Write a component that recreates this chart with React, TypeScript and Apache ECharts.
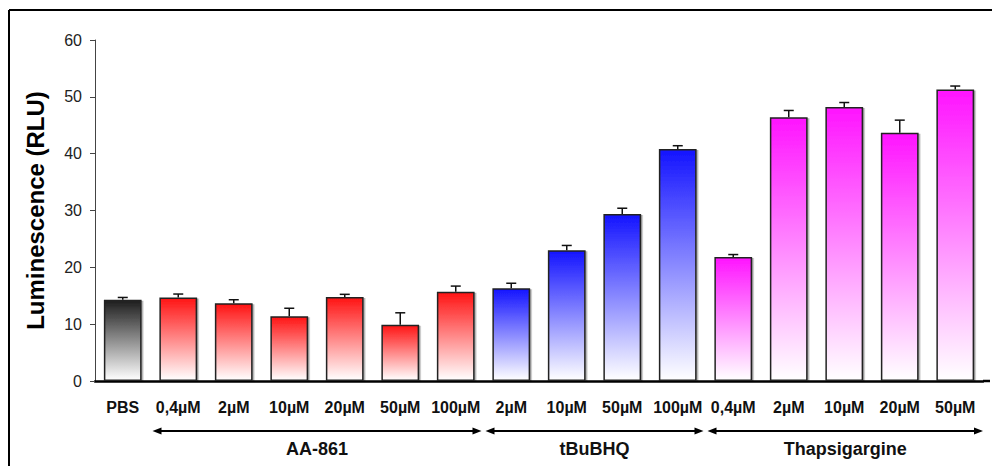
import React, { useEffect, useRef } from "react";
import * as echarts from "echarts";

const categories = ["PBS", "0,4µM", "2µM", "10µM", "20µM", "50µM", "100µM", "2µM", "10µM", "50µM", "100µM", "0,4µM", "2µM", "10µM", "20µM", "50µM"];
const values = [14.3, 14.7, 13.7, 11.4, 14.8, 9.9, 15.7, 16.3, 23.0, 29.4, 40.8, 21.8, 46.4, 48.2, 43.7, 51.3];
const errors = [0.4, 0.6, 0.6, 1.4, 0.45, 2.1, 1.0, 0.9, 0.85, 1.0, 0.6, 0.45, 1.2, 0.8, 2.2, 0.6];
const groupIndex = [0, 1, 1, 1, 1, 1, 1, 2, 2, 2, 2, 3, 3, 3, 3, 3];
const groupTopColors = ["#1e1e1e", "#ff1414", "#1414ff", "#ff14ff"];
const groupNames = ["AA-861", "tBuBHQ", "Thapsigargine"];
const groupRanges = [[1, 6], [7, 10], [11, 15]];
const yTicks = [0, 10, 20, 30, 40, 50, 60];

const FONT = "'Liberation Sans', Arial, sans-serif";

export default function App() {
  const ref = useRef<HTMLDivElement>(null);
  useEffect(() => {
    if (!ref.current) return;
    const chart = echarts.init(ref.current, null, { renderer: "svg" });
    const gridLeft = 95;
    const gridRight = 9;
    const gridTop = 40;
    const gridBottom = 85;
    const option: any = {
      animation: false,
      backgroundColor: "#ffffff",
      grid: { left: gridLeft, right: gridRight, top: gridTop, bottom: gridBottom },
      xAxis: {
        type: "category",
        data: categories,
        axisLine: { show: true, lineStyle: { color: "#000", width: 2.5 } },
        axisTick: { show: false },
        axisLabel: { fontFamily: FONT, fontWeight: "bold", fontSize: 16, color: "#111", margin: 18, interval: 0 },
      },
      yAxis: {
        type: "value",
        min: yTicks[0],
        max: yTicks[yTicks.length - 1],
        interval: 10,
        name: "Luminescence (RLU)",
        nameLocation: "middle",
        nameGap: 48,
        nameTextStyle: { fontFamily: FONT, fontWeight: "bold", fontSize: 24, color: "#000" },
        axisLine: { show: true, lineStyle: { color: "#444", width: 1 } },
        axisTick: { show: true, length: 5, lineStyle: { color: "#444" } },
        axisLabel: { fontFamily: FONT, fontSize: 16, color: "#222", margin: 13 },
        splitLine: { show: false },
      },
      series: [
        {
          type: "bar",
          barWidth: "68%",
          data: values.map((v, i) => ({
            value: v,
            itemStyle: {
              color: new echarts.graphic.LinearGradient(0, 0, 0, 1, [
                { offset: 0, color: groupTopColors[groupIndex[i]] },
                { offset: 1, color: "#ffffff" },
              ]),
              borderColor: "#222",
              borderWidth: 1.5,
              shadowColor: "rgba(0,0,0,0.35)",
              shadowOffsetX: 1.5,
              shadowOffsetY: 1,
              shadowBlur: 0,
            },
          })),
          z: 2,
        },
        {
          type: "custom",
          z: 3,
          data: values.map((v, i) => [i, v, v + errors[i]]),
          renderItem: (params: any, api: any) => {
            const x = api.value(0);
            const p0 = api.coord([x, api.value(1)]);
            const p1 = api.coord([x, api.value(2)]);
            const style = { stroke: "#111", lineWidth: 1.5 };
            return {
              type: "group",
              children: [
                { type: "line", shape: { x1: p0[0], y1: p0[1], x2: p1[0], y2: p1[1] }, style },
                { type: "line", shape: { x1: p1[0] - 5, y1: p1[1], x2: p1[0] + 5, y2: p1[1] }, style },
              ],
            };
          },
        },
      ],
    };
    chart.setOption(option);

    const c0 = chart.convertToPixel({ xAxisIndex: 0 }, 0) as number;
    const c1 = chart.convertToPixel({ xAxisIndex: 0 }, 1) as number;
    const band = c1 - c0;
    const baseY = chart.convertToPixel({ yAxisIndex: 0 }, 0) as number;
    const arrowY = baseY + 50;
    const labelY = baseY + 68;
    const graphics: any[] = [];
    const lineStyle = { stroke: "#000", lineWidth: 2 };
    groupRanges.forEach((r, gi) => {
      const left = c0 + (r[0] - 0.5) * band + 2;
      const right = c0 + (r[1] + 0.5) * band - (gi === groupRanges.length - 1 ? 0 : 2);
      graphics.push({ type: "line", shape: { x1: left + 4, y1: arrowY, x2: right - 4, y2: arrowY }, style: lineStyle, silent: true });
      graphics.push({ type: "polygon", shape: { points: [[left, arrowY], [left + 9, arrowY - 3.5], [left + 9, arrowY + 3.5]] }, style: { fill: "#000" }, silent: true });
      graphics.push({ type: "polygon", shape: { points: [[right, arrowY], [right - 9, arrowY - 3.5], [right - 9, arrowY + 3.5]] }, style: { fill: "#000" }, silent: true });
      graphics.push({
        type: "text",
        x: (left + right) / 2,
        y: labelY,
        style: { text: groupNames[gi], font: `bold 18px ${FONT}`, fill: "#111", align: "center", verticalAlign: "middle" },
        silent: true,
      });
    });
    const w = chart.getWidth();
    const h = chart.getHeight();
    graphics.push({ type: "line", shape: { x1: w - gridRight, y1: baseY, x2: w - 2, y2: baseY }, style: { stroke: "#000", lineWidth: 2.5 }, silent: true });
    graphics.push({ type: "line", shape: { x1: 9, y1: 10, x2: w, y2: 10 }, style: { stroke: "#000", lineWidth: 2 }, silent: true });
    graphics.push({ type: "line", shape: { x1: 9, y1: 10, x2: 9, y2: h }, style: { stroke: "#000", lineWidth: 2 }, silent: true });
    chart.setOption({ graphic: graphics });

    return () => chart.dispose();
  }, []);
  return <div ref={ref} style={{ width: 992, height: 466, position: "absolute", left: 0, top: 0 }} />;
}
